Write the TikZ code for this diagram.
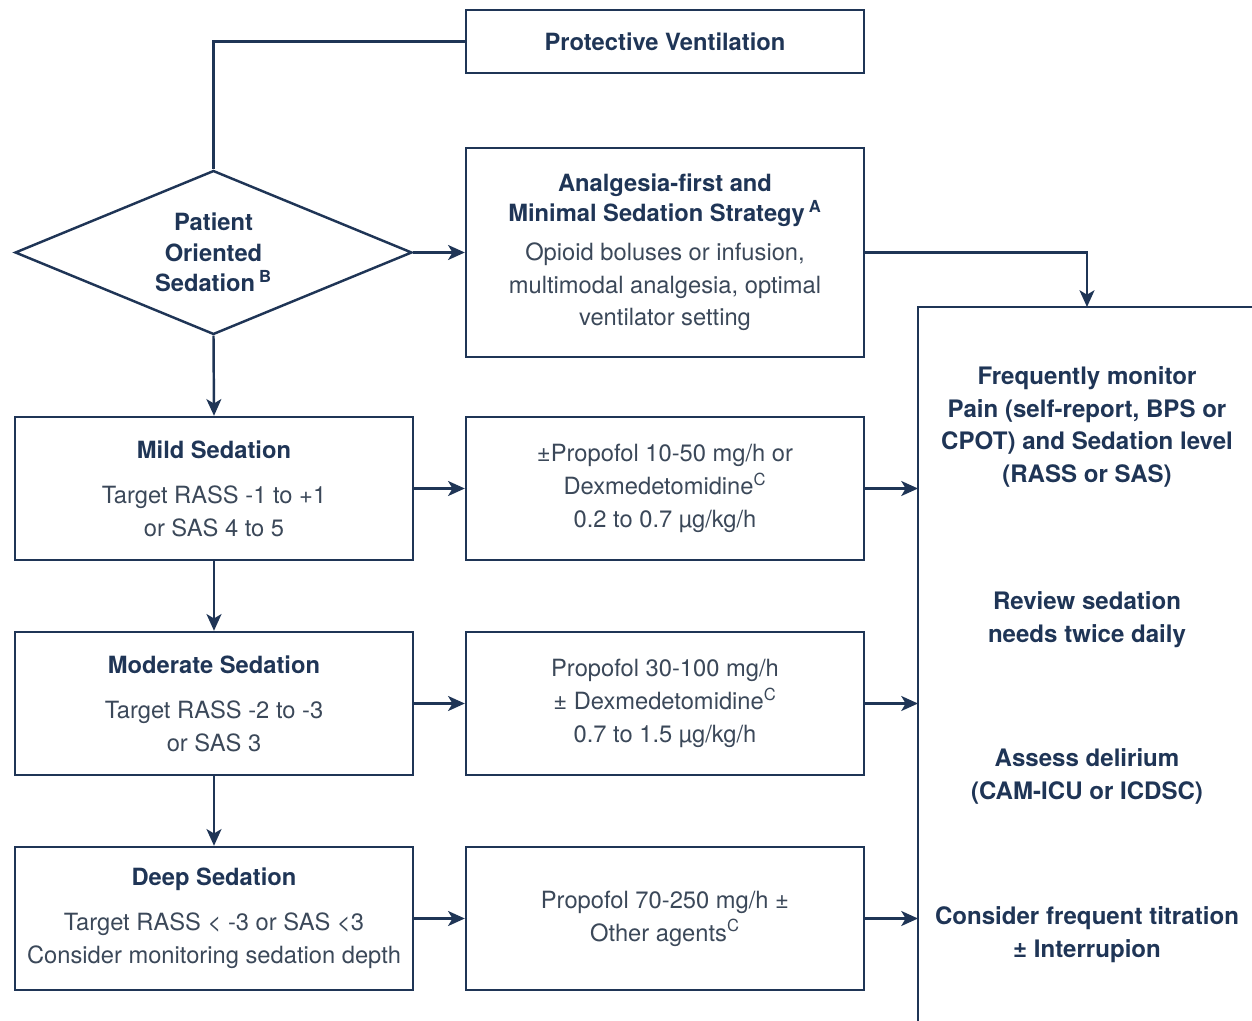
\documentclass[tikz,border=0pt]{standalone}
\usepackage{fontspec}
\setmainfont{TeX Gyre Heros}
\usetikzlibrary{arrows.meta,positioning,shapes.geometric}
\definecolor{navy}{HTML}{1F3556}
\definecolor{inkgray}{HTML}{3B4859}
\tikzset{box/.style={draw=navy,line width=1.4pt,minimum width=7.96cm,minimum height=2.86cm,align=center,text=inkgray,inner sep=2pt}}
\tikzset{choice/.style={diamond,draw=navy,line width=1.4pt,aspect=2.4,minimum width=7.94cm,minimum height=3.28cm,align=center,inner sep=0pt}}
\tikzset{link/.style={draw=navy,line width=1.4pt}}
\tikzset{flow/.style={link,-{Stealth[length=9.5pt,width=8.5pt,inset=2.5pt]}}}
\tikzset{note/.style={align=center,text=navy,font=\fontsize{13.7}{18.7}\selectfont\bfseries}}
\newcommand{\Shead}[1]{\textbf{\textcolor{navy}{#1}}}

\begin{document}
\begin{tikzpicture}[x=0.02cm,y=-0.02cm,font=\fontsize{13.5}{18.7}\selectfont]
\useasboundingbox (0,0) rectangle (1252,1021);
% \draw[help lines,step=50] (0,0) grid (1252,1021);
\node (pv) [box,minimum height=1.26cm] at (665,41.5) {\Shead{Protective Ventilation}};
\node (pos) [choice] at (213.5,252.5) {\Shead{Patient}\\[-1.4pt]\Shead{Oriented}\\[-1.4pt]\Shead{Sedation\,\textsuperscript{B}}};
\node (ana) [box,minimum height=4.18cm] at (665,252.5)
  {\Shead{Analgesia-first and}\\[-1.7pt]\Shead{Minimal Sedation Strategy\,\textsuperscript{A}}\\[3.3pt]
   Opioid boluses or infusion,\\multimodal analgesia, optimal\\ventilator setting};
%
\node (mild) [box] at (214,488.5) {\Shead{Mild Sedation}\\[7pt]Target RASS -1 to +1\\or SAS 4 to 5};
\node (mod) [box] at (214,703.5) {\Shead{Moderate Sedation}\\[7pt]Target RASS -2 to -3\\or SAS 3};
\node (deep) [box] at (214,918.5) {\Shead{Deep Sedation}\\[7pt]Target RASS < -3 or SAS <3\\Consider monitoring sedation depth};
\node (m1) [box] at (665,488.5) {±Propofol 10-50 mg/h or\\Dexmedetomidine\textsuperscript{C}\\0.2 to 0.7 µg/kg/h};
\node (m2) [box] at (665,703.5) {Propofol 30-100 mg/h\\± Dexmedetomidine\textsuperscript{C}\\0.7 to 1.5 µg/kg/h};
\node (m3) [box] at (665,918.5) {Propofol 70-250 mg/h ±\\Other agents\textsuperscript{C}};
%
\coordinate (rtop) at (918,307);
\draw[link] (1260,307) -- (rtop) -- (918,1030);
\node (mon) [note] at (1087,427) {Frequently monitor\\Pain (self-report, BPS or\\CPOT) and Sedation level\\(RASS or SAS)};
\node (rev) [note] at (1087,619.5) {Review sedation\\needs twice daily};
\node (del) [note] at (1087,776.5) {Assess delirium\\(CAM-ICU or ICDSC)};
\node (tit) [note] at (1087,934.5) {Consider frequent titration\\± Interrupion};
%
\draw[link] (pos.north) |- (pv.west);
\draw[flow] (pos.east) -- (ana.west);
\draw[flow] (ana.east) -| (mon.north |- rtop);
\draw[flow] (pos.south) -- (mild.north);
\draw[flow] (mild) -- (mod);
\draw[flow] (mod) -- (deep);
\draw[flow] (mild) -- (m1);
\draw[flow] (mod) -- (m2);
\draw[flow] (deep) -- (m3);
\draw[flow] (m1.east) -- (m1.east -| rtop);
\draw[flow] (m2.east) -- (m2.east -| rtop);
\draw[flow] (m3.east) -- (m3.east -| rtop);
\end{tikzpicture}
\end{document}
